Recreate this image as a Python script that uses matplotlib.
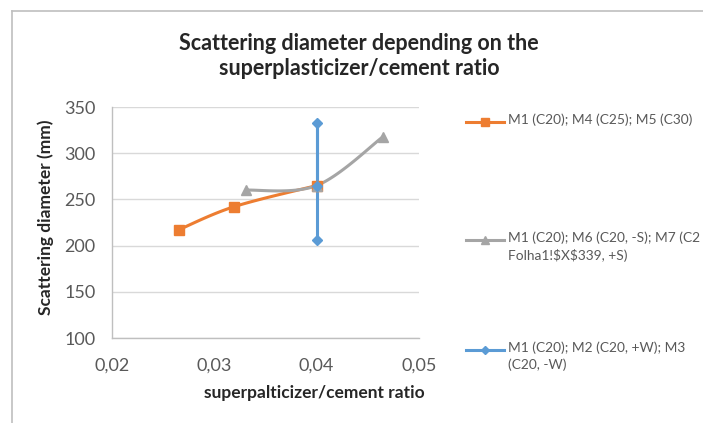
import numpy as np
import matplotlib
matplotlib.use("Agg")
import matplotlib.pyplot as plt
from matplotlib.lines import Line2D
from matplotlib.ticker import FuncFormatter

plt.rcParams['font.family'] = ['Lato', 'DejaVu Sans']

# Series data: superplasticizer/cement ratio vs scattering diameter (mm)
series_names = [
    "M1 (C20); M4 (C25); M5 (C30)",
    "M1 (C20); M6 (C20, -S); M7 (C2\nFolha1!$X$339, +S)",
    "M1 (C20); M2 (C20, +W); M3\n(C20, -W)",
]
ratio_m1_m4_m5 = [0.0265, 0.0319, 0.0400]
diam_m1_m4_m5 = [217, 242, 265]
ratio_m1_m6_m7 = [0.0331, 0.0400, 0.0465]
diam_m1_m6_m7 = [260, 265, 318]
ratio_m1_m2_m3 = [0.0400, 0.0400, 0.0400]
diam_m1_m2_m3 = [265, 333, 206]

x_ticks = [0.02, 0.03, 0.04, 0.05]
y_ticks = [100, 150, 200, 250, 300, 350]

colors = ["#ED7D31", "#A5A5A5", "#5B9BD5"]
markers = ["s", "^", "D"]
msizes = [6.5, 7, 5]


def smooth(xs, ys, n=40):
    """Cardinal (Excel-style) Bezier smoothing through the given points."""
    pts = np.column_stack([xs, ys]).astype(float)
    # normalise to axis ranges so the curve shape is scale-independent
    sx, sy = 0.03, 250.0
    p = pts / [sx, sy]
    out = [p[0]]
    t = np.linspace(0, 1, n)[1:, None]
    for i in range(len(p) - 1):
        p0 = p[i - 1] if i > 0 else p[i]
        p1, p2 = p[i], p[i + 1]
        p3 = p[i + 2] if i + 2 < len(p) else p[i + 1]
        c1 = p1 + (p2 - p0) / 6.0
        c2 = p2 - (p3 - p1) / 6.0
        seg = ((1 - t) ** 3) * p1 + 3 * ((1 - t) ** 2) * t * c1 \
            + 3 * (1 - t) * t ** 2 * c2 + t ** 3 * p2
        out.extend(seg)
    out = np.array(out) * [sx, sy]
    return out[:, 0], out[:, 1]


fig = plt.figure(figsize=(7.03, 4.23), dpi=100)

# chart border (top and left edges)
bx, by = 12 / 703, 1 - 11 / 423
fig.lines.append(Line2D([bx, 1.0], [by, by], transform=fig.transFigure,
                        color="#BFBFBF", linewidth=1.2))
fig.lines.append(Line2D([bx, bx], [0.0, by], transform=fig.transFigure,
                        color="#BFBFBF", linewidth=1.2))

ax = fig.add_axes([112 / 703, 1 - 338 / 423, 307 / 703, 231 / 423])

data = [
    (ratio_m1_m4_m5, diam_m1_m4_m5),
    (ratio_m1_m6_m7, diam_m1_m6_m7),
    (ratio_m1_m2_m3, diam_m1_m2_m3),
]
for i in range(3):
    xs, ys = data[i]
    sx, sy = smooth(xs, ys)
    ax.plot(sx, sy, color=colors[i], linewidth=2.2, solid_capstyle="round",
            zorder=3)
    ax.plot(xs, ys, linestyle="none", marker=markers[i], markersize=msizes[i],
            color=colors[i], zorder=4)

ax.set_xlim(0.02, 0.05)
ax.set_ylim(100, 350)
ax.set_xticks(x_ticks)
ax.set_yticks(y_ticks)
ax.xaxis.set_major_formatter(FuncFormatter(lambda v, p: f"{v:.2f}".replace(".", ",")))
ax.grid(axis="y", color="#D9D9D9", linewidth=1.0)
ax.set_axisbelow(True)
for s in ["top", "right"]:
    ax.spines[s].set_visible(False)
for s in ["left", "bottom"]:
    ax.spines[s].set_color("#BFBFBF")
    ax.spines[s].set_linewidth(1.0)
ax.tick_params(axis="both", length=0, labelsize=13, labelcolor="#595959")
ax.tick_params(axis="x", pad=14)
ax.tick_params(axis="y", pad=12)

fig.text(314 / 703, 1 - 393 / 423, "superpalticizer/cement ratio",
         ha="center", va="center", fontsize=12.5, fontweight="bold",
         color="#262626")
fig.text(46 / 703, 1 - 217 / 423, "Scattering diameter (mm)",
         ha="center", va="center", rotation=90, fontsize=12.5,
         fontweight="bold", color="#262626")
fig.text(359 / 703, 1 - 56 / 423,
         "Scattering diameter depending on the\nsuperplasticizer/cement ratio",
         ha="center", va="center", fontsize=15.5, fontweight="bold",
         color="#262626", linespacing=1.25)

# legend entries, stacked down the right side
leg_y = [122, 240, 350]
for i in range(3):
    y = 1 - leg_y[i] / 423
    fig.lines.append(Line2D([466 / 703, 504 / 703], [y, y],
                            transform=fig.transFigure, color=colors[i],
                            linewidth=2.2))
    fig.lines.append(Line2D([485 / 703], [y], transform=fig.transFigure,
                            color=colors[i], marker=markers[i],
                            markersize=msizes[i] * 0.8, linestyle="none"))
    fig.text(508 / 703, y + 9 / 423, series_names[i], ha="left", va="top",
             fontsize=9.9, color="#595959", linespacing=1.5,
             parse_math=False)

fig.savefig("out.png", dpi=100)
